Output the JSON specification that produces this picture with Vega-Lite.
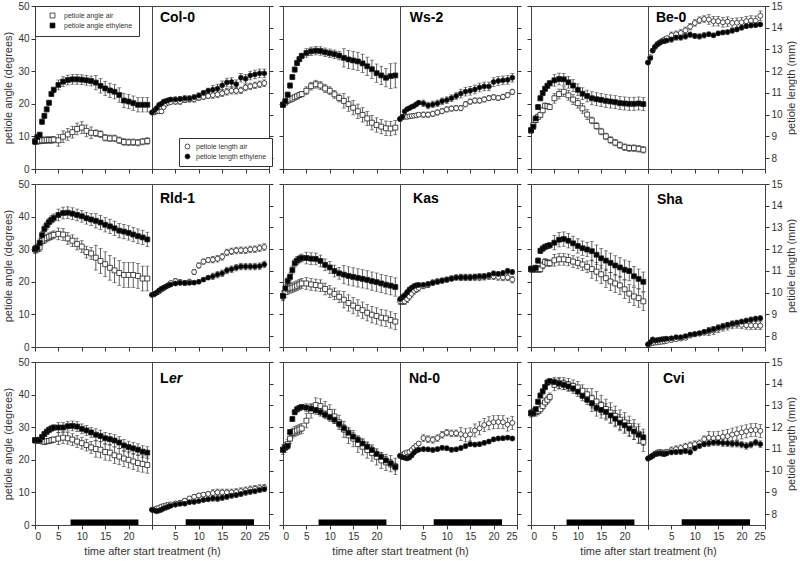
{
"$schema":"https://vega.github.io/schema/vega-lite/v6.json",
"padding":{"left":2,"top":0,"right":0,"bottom":2},
"config":{"font":"Liberation Sans","view":{"stroke":"#444","strokeWidth":1},
"axis":{"grid":false,"domain":false,"tickColor":"#333","tickSize":4,"labelFont":"Liberation Sans","labelFontSize":10,"labelColor":"#333","labelOverlap":false,"titleFont":"Liberation Sans","titleFontSize":11,"titleFontWeight":"normal","titleColor":"#333","labelPadding":2,"titlePadding":4}},
"datasets":{
"Col-0a":[{"s":"aa","t":0,"v":8.5,"e":1},{"s":"aa","t":0.5,"v":8.6,"e":1},{"s":"aa","t":1,"v":8.7,"e":1},{"s":"aa","t":1.5,"v":8.8,"e":1},{"s":"aa","t":2,"v":8.8,"e":1},{"s":"aa","t":2.5,"v":8.9,"e":1},{"s":"aa","t":3,"v":8.9,"e":1},{"s":"aa","t":3.5,"v":8.9,"e":1},{"s":"aa","t":4,"v":9,"e":1},{"s":"aa","t":5,"v":8.8,"e":1.8},{"s":"aa","t":6,"v":9.9,"e":1.8},{"s":"aa","t":7,"v":10.6,"e":1.8},{"s":"aa","t":8,"v":11.3,"e":1.8},{"s":"aa","t":9,"v":12.3,"e":1.8},{"s":"aa","t":10,"v":12.7,"e":1.8},{"s":"aa","t":11,"v":11.7,"e":1.8},{"s":"aa","t":12,"v":11.1,"e":1.8},{"s":"aa","t":13,"v":11,"e":1},{"s":"aa","t":14,"v":10.7,"e":1},{"s":"aa","t":15,"v":9.6,"e":1},{"s":"aa","t":16,"v":9.4,"e":1},{"s":"aa","t":17,"v":9.4,"e":1},{"s":"aa","t":18,"v":8.8,"e":1},{"s":"aa","t":19,"v":8.3,"e":1},{"s":"aa","t":20,"v":8.2,"e":1},{"s":"aa","t":21,"v":8.2,"e":1},{"s":"aa","t":22,"v":8.1,"e":1},{"s":"aa","t":23,"v":8.4,"e":1},{"s":"aa","t":24,"v":8.6,"e":1},
{"s":"ae","t":0,"v":8.4,"e":0.8},{"s":"ae","t":0.5,"v":9.8,"e":0.8},{"s":"ae","t":1,"v":10.5,"e":0.8},{"s":"ae","t":1.5,"v":14.5,"e":0.8},{"s":"ae","t":2,"v":16.3,"e":0.8},{"s":"ae","t":2.5,"v":18.3,"e":0.8},{"s":"ae","t":3,"v":20.3,"e":0.8},{"s":"ae","t":3.5,"v":23,"e":0.8},{"s":"ae","t":4,"v":24.3,"e":0.8},{"s":"ae","t":5,"v":25.8,"e":1.5},{"s":"ae","t":6,"v":26.8,"e":1.5},{"s":"ae","t":7,"v":27.3,"e":1.5},{"s":"ae","t":8,"v":27.5,"e":1.5},{"s":"ae","t":9,"v":27.5,"e":1.5},{"s":"ae","t":10,"v":27.4,"e":1.5},{"s":"ae","t":11,"v":27.2,"e":1.5},{"s":"ae","t":12,"v":27,"e":1.5},{"s":"ae","t":13,"v":26.5,"e":2.2},{"s":"ae","t":14,"v":25.5,"e":2.2},{"s":"ae","t":15,"v":24.7,"e":2.2},{"s":"ae","t":16,"v":24.1,"e":2.2},{"s":"ae","t":17,"v":23.7,"e":2.2},{"s":"ae","t":18,"v":22.7,"e":2.2},{"s":"ae","t":19,"v":21,"e":2.2},{"s":"ae","t":20,"v":20.7,"e":2.2},{"s":"ae","t":21,"v":20.2,"e":2.2},{"s":"ae","t":22,"v":19.7,"e":2.2},{"s":"ae","t":23,"v":19.7,"e":2.2},{"s":"ae","t":24,"v":19.7,"e":2.2}],
"Col-0l":[{"s":"la","t":0,"v":10.1,"e":0.08},{"s":"la","t":0.5,"v":10.1,"e":0.08},{"s":"la","t":1,"v":10.15,"e":0.08},{"s":"la","t":1.5,"v":10.15,"e":0.08},{"s":"la","t":2,"v":10.15,"e":0.08},{"s":"la","t":2.5,"v":10.35,"e":0.08},{"s":"la","t":3,"v":10.5,"e":0.08},{"s":"la","t":3.5,"v":10.55,"e":0.08},{"s":"la","t":4,"v":10.58,"e":0.08},{"s":"la","t":5,"v":10.6,"e":0.12},{"s":"la","t":6,"v":10.6,"e":0.12},{"s":"la","t":7,"v":10.68,"e":0.12},{"s":"la","t":8,"v":10.7,"e":0.12},{"s":"la","t":9,"v":10.7,"e":0.12},{"s":"la","t":10,"v":10.78,"e":0.12},{"s":"la","t":11,"v":10.82,"e":0.12},{"s":"la","t":12,"v":10.86,"e":0.12},{"s":"la","t":13,"v":10.9,"e":0.15},{"s":"la","t":14,"v":10.93,"e":0.15},{"s":"la","t":15,"v":10.98,"e":0.15},{"s":"la","t":16,"v":11.05,"e":0.15},{"s":"la","t":17,"v":11.1,"e":0.15},{"s":"la","t":18,"v":11.1,"e":0.15},{"s":"la","t":19,"v":11.12,"e":0.15},{"s":"la","t":20,"v":11.25,"e":0.15},{"s":"la","t":21,"v":11.3,"e":0.15},{"s":"la","t":22,"v":11.35,"e":0.15},{"s":"la","t":23,"v":11.4,"e":0.15},{"s":"la","t":24,"v":11.45,"e":0.15},
{"s":"le","t":0,"v":10.1,"e":0.08},{"s":"le","t":0.5,"v":10.2,"e":0.08},{"s":"le","t":1,"v":10.3,"e":0.08},{"s":"le","t":1.5,"v":10.45,"e":0.08},{"s":"le","t":2,"v":10.5,"e":0.08},{"s":"le","t":2.5,"v":10.6,"e":0.08},{"s":"le","t":3,"v":10.63,"e":0.08},{"s":"le","t":3.5,"v":10.67,"e":0.08},{"s":"le","t":4,"v":10.7,"e":0.08},{"s":"le","t":5,"v":10.7,"e":0.12},{"s":"le","t":6,"v":10.72,"e":0.12},{"s":"le","t":7,"v":10.75,"e":0.12},{"s":"le","t":8,"v":10.75,"e":0.12},{"s":"le","t":9,"v":10.8,"e":0.12},{"s":"le","t":10,"v":10.88,"e":0.12},{"s":"le","t":11,"v":11,"e":0.12},{"s":"le","t":12,"v":11.1,"e":0.12},{"s":"le","t":13,"v":11.15,"e":0.2},{"s":"le","t":14,"v":11.2,"e":0.2},{"s":"le","t":15,"v":11.35,"e":0.2},{"s":"le","t":16,"v":11.48,"e":0.2},{"s":"le","t":17,"v":11.5,"e":0.2},{"s":"le","t":18,"v":11.4,"e":0.2},{"s":"le","t":19,"v":11.7,"e":0.2},{"s":"le","t":20,"v":11.65,"e":0.2},{"s":"le","t":21,"v":11.8,"e":0.2},{"s":"le","t":22,"v":11.85,"e":0.2},{"s":"le","t":23,"v":11.9,"e":0.2},{"s":"le","t":24,"v":11.9,"e":0.2}],
"Ws-2a":[{"s":"aa","t":0,"v":19.7,"e":0.8},{"s":"aa","t":0.5,"v":20.4,"e":0.8},{"s":"aa","t":1,"v":21,"e":0.8},{"s":"aa","t":1.5,"v":21.3,"e":0.8},{"s":"aa","t":2,"v":21.6,"e":0.8},{"s":"aa","t":2.5,"v":22,"e":0.8},{"s":"aa","t":3,"v":22.3,"e":0.8},{"s":"aa","t":3.5,"v":22.7,"e":0.8},{"s":"aa","t":4,"v":23,"e":0.8},{"s":"aa","t":5,"v":24,"e":1.2},{"s":"aa","t":6,"v":25.4,"e":1.2},{"s":"aa","t":7,"v":26,"e":1.2},{"s":"aa","t":8,"v":25.6,"e":1.2},{"s":"aa","t":9,"v":24.7,"e":1.2},{"s":"aa","t":10,"v":24,"e":1.2},{"s":"aa","t":11,"v":22.9,"e":1.2},{"s":"aa","t":12,"v":21.8,"e":1.2},{"s":"aa","t":13,"v":20.9,"e":2.2},{"s":"aa","t":14,"v":19.9,"e":2.2},{"s":"aa","t":15,"v":18.8,"e":2.2},{"s":"aa","t":16,"v":17.7,"e":2.2},{"s":"aa","t":17,"v":16.6,"e":2.2},{"s":"aa","t":18,"v":15.5,"e":2.2},{"s":"aa","t":19,"v":14.2,"e":2.2},{"s":"aa","t":20,"v":13.5,"e":2.2},{"s":"aa","t":21,"v":13,"e":2.2},{"s":"aa","t":22,"v":12.5,"e":2.2},{"s":"aa","t":23,"v":12.4,"e":2.2},{"s":"aa","t":24,"v":12.7,"e":2.2},
{"s":"ae","t":0,"v":19.7,"e":0.8},{"s":"ae","t":0.5,"v":20.8,"e":0.8},{"s":"ae","t":1,"v":22.8,"e":0.8},{"s":"ae","t":1.5,"v":25.6,"e":0.8},{"s":"ae","t":2,"v":28.2,"e":0.8},{"s":"ae","t":2.5,"v":30.5,"e":0.8},{"s":"ae","t":3,"v":32.5,"e":0.8},{"s":"ae","t":3.5,"v":33.7,"e":0.8},{"s":"ae","t":4,"v":34.7,"e":0.8},{"s":"ae","t":5,"v":35.6,"e":1.3},{"s":"ae","t":6,"v":36.1,"e":1.3},{"s":"ae","t":7,"v":36.3,"e":1.3},{"s":"ae","t":8,"v":36.2,"e":1.3},{"s":"ae","t":9,"v":35.8,"e":1.3},{"s":"ae","t":10,"v":35.5,"e":1.3},{"s":"ae","t":11,"v":35.2,"e":1.3},{"s":"ae","t":12,"v":34.8,"e":1.3},{"s":"ae","t":13,"v":34.1,"e":2.8},{"s":"ae","t":14,"v":33.6,"e":2.8},{"s":"ae","t":15,"v":33.3,"e":2.8},{"s":"ae","t":16,"v":33,"e":2.8},{"s":"ae","t":17,"v":32.4,"e":2.8},{"s":"ae","t":18,"v":31.5,"e":2.8},{"s":"ae","t":19,"v":30.6,"e":2.8},{"s":"ae","t":20,"v":29.4,"e":2.8},{"s":"ae","t":21,"v":28.7,"e":2.8},{"s":"ae","t":22,"v":28,"e":2.8},{"s":"ae","t":23,"v":28.5,"e":3.8},{"s":"ae","t":24,"v":28.7,"e":3.8}],
"Ws-2l":[{"s":"la","t":0,"v":9.8,"e":0.08},{"s":"la","t":0.5,"v":9.88,"e":0.08},{"s":"la","t":1,"v":9.9,"e":0.08},{"s":"la","t":1.5,"v":9.9,"e":0.08},{"s":"la","t":2,"v":9.92,"e":0.08},{"s":"la","t":2.5,"v":9.94,"e":0.08},{"s":"la","t":3,"v":9.95,"e":0.08},{"s":"la","t":3.5,"v":9.97,"e":0.08},{"s":"la","t":4,"v":10,"e":0.08},{"s":"la","t":5,"v":10,"e":0.12},{"s":"la","t":6,"v":10,"e":0.12},{"s":"la","t":7,"v":10.04,"e":0.12},{"s":"la","t":8,"v":10.1,"e":0.12},{"s":"la","t":9,"v":10.16,"e":0.12},{"s":"la","t":10,"v":10.24,"e":0.12},{"s":"la","t":11,"v":10.28,"e":0.12},{"s":"la","t":12,"v":10.3,"e":0.12},{"s":"la","t":13,"v":10.3,"e":0.12},{"s":"la","t":14,"v":10.48,"e":0.12},{"s":"la","t":15,"v":10.6,"e":0.12},{"s":"la","t":16,"v":10.65,"e":0.12},{"s":"la","t":17,"v":10.65,"e":0.12},{"s":"la","t":18,"v":10.7,"e":0.12},{"s":"la","t":19,"v":10.76,"e":0.12},{"s":"la","t":20,"v":10.8,"e":0.12},{"s":"la","t":21,"v":10.77,"e":0.12},{"s":"la","t":22,"v":10.82,"e":0.12},{"s":"la","t":23,"v":10.9,"e":0.12},{"s":"la","t":24,"v":11.05,"e":0.12},
{"s":"le","t":0,"v":9.8,"e":0.08},{"s":"le","t":0.5,"v":9.9,"e":0.08},{"s":"le","t":1,"v":10.15,"e":0.08},{"s":"le","t":1.5,"v":10.25,"e":0.08},{"s":"le","t":2,"v":10.3,"e":0.08},{"s":"le","t":2.5,"v":10.36,"e":0.08},{"s":"le","t":3,"v":10.4,"e":0.08},{"s":"le","t":3.5,"v":10.48,"e":0.08},{"s":"le","t":4,"v":10.55,"e":0.08},{"s":"le","t":5,"v":10.52,"e":0.15},{"s":"le","t":6,"v":10.42,"e":0.15},{"s":"le","t":7,"v":10.47,"e":0.15},{"s":"le","t":8,"v":10.52,"e":0.15},{"s":"le","t":9,"v":10.62,"e":0.15},{"s":"le","t":10,"v":10.67,"e":0.15},{"s":"le","t":11,"v":10.76,"e":0.15},{"s":"le","t":12,"v":10.86,"e":0.15},{"s":"le","t":13,"v":10.97,"e":0.2},{"s":"le","t":14,"v":11.06,"e":0.2},{"s":"le","t":15,"v":11.1,"e":0.2},{"s":"le","t":16,"v":11.16,"e":0.2},{"s":"le","t":17,"v":11.25,"e":0.2},{"s":"le","t":18,"v":11.3,"e":0.2},{"s":"le","t":19,"v":11.3,"e":0.2},{"s":"le","t":20,"v":11.5,"e":0.2},{"s":"le","t":21,"v":11.55,"e":0.2},{"s":"le","t":22,"v":11.58,"e":0.2},{"s":"le","t":23,"v":11.6,"e":0.2},{"s":"le","t":24,"v":11.7,"e":0.2}],
"Be-0a":[{"s":"aa","t":0,"v":11.8,"e":0.8},{"s":"aa","t":0.5,"v":13.5,"e":0.8},{"s":"aa","t":1,"v":15,"e":0.8},{"s":"aa","t":1.5,"v":16,"e":0.8},{"s":"aa","t":2,"v":16.6,"e":0.8},{"s":"aa","t":2.5,"v":18,"e":0.8},{"s":"aa","t":3,"v":19.4,"e":0.8},{"s":"aa","t":3.5,"v":19.3,"e":0.8},{"s":"aa","t":4,"v":19,"e":0.8},{"s":"aa","t":5,"v":21.7,"e":1.5},{"s":"aa","t":6,"v":23,"e":1.5},{"s":"aa","t":7,"v":23.7,"e":1.5},{"s":"aa","t":8,"v":22.6,"e":1.5},{"s":"aa","t":9,"v":21.3,"e":1.5},{"s":"aa","t":10,"v":20.2,"e":1.5},{"s":"aa","t":11,"v":18.6,"e":1.5},{"s":"aa","t":12,"v":16.7,"e":1.5},{"s":"aa","t":13,"v":14.9,"e":1},{"s":"aa","t":14,"v":13.2,"e":1},{"s":"aa","t":15,"v":11.5,"e":1},{"s":"aa","t":16,"v":10,"e":1},{"s":"aa","t":17,"v":8.9,"e":1},{"s":"aa","t":18,"v":8.1,"e":1},{"s":"aa","t":19,"v":7.3,"e":1},{"s":"aa","t":20,"v":6.7,"e":1},{"s":"aa","t":21,"v":6.4,"e":1},{"s":"aa","t":22,"v":6.4,"e":1},{"s":"aa","t":23,"v":6.2,"e":1},{"s":"aa","t":24,"v":5.9,"e":1},
{"s":"ae","t":0,"v":11.9,"e":0.8},{"s":"ae","t":0.5,"v":13,"e":0.8},{"s":"ae","t":1,"v":15.5,"e":0.8},{"s":"ae","t":1.5,"v":19,"e":0.8},{"s":"ae","t":2,"v":21.7,"e":0.8},{"s":"ae","t":2.5,"v":23.3,"e":0.8},{"s":"ae","t":3,"v":24.6,"e":0.8},{"s":"ae","t":3.5,"v":25.5,"e":0.8},{"s":"ae","t":4,"v":26.3,"e":0.8},{"s":"ae","t":5,"v":27.2,"e":1.8},{"s":"ae","t":6,"v":27.6,"e":1.8},{"s":"ae","t":7,"v":27.5,"e":1.8},{"s":"ae","t":8,"v":26.6,"e":1.8},{"s":"ae","t":9,"v":25.6,"e":1.8},{"s":"ae","t":10,"v":24.3,"e":1.8},{"s":"ae","t":11,"v":23.1,"e":1.8},{"s":"ae","t":12,"v":22.4,"e":1.8},{"s":"ae","t":13,"v":21.7,"e":2},{"s":"ae","t":14,"v":21.4,"e":2},{"s":"ae","t":15,"v":21.2,"e":2},{"s":"ae","t":16,"v":20.9,"e":2},{"s":"ae","t":17,"v":20.7,"e":2},{"s":"ae","t":18,"v":20.5,"e":2},{"s":"ae","t":19,"v":20.2,"e":2},{"s":"ae","t":20,"v":20.1,"e":2},{"s":"ae","t":21,"v":20,"e":2},{"s":"ae","t":22,"v":20,"e":2},{"s":"ae","t":23,"v":20.1,"e":2},{"s":"ae","t":24,"v":19.9,"e":2}],
"Be-0l":[{"s":"la","t":0,"v":12.4,"e":0.08},{"s":"la","t":0.5,"v":12.65,"e":0.08},{"s":"la","t":1,"v":12.95,"e":0.08},{"s":"la","t":1.5,"v":13.12,"e":0.08},{"s":"la","t":2,"v":13.25,"e":0.08},{"s":"la","t":2.5,"v":13.33,"e":0.08},{"s":"la","t":3,"v":13.4,"e":0.08},{"s":"la","t":3.5,"v":13.46,"e":0.08},{"s":"la","t":4,"v":13.52,"e":0.08},{"s":"la","t":5,"v":13.65,"e":0.15},{"s":"la","t":6,"v":13.7,"e":0.15},{"s":"la","t":7,"v":13.76,"e":0.15},{"s":"la","t":8,"v":13.88,"e":0.15},{"s":"la","t":9,"v":14.05,"e":0.15},{"s":"la","t":10,"v":14.22,"e":0.15},{"s":"la","t":11,"v":14.35,"e":0.15},{"s":"la","t":12,"v":14.4,"e":0.15},{"s":"la","t":13,"v":14.38,"e":0.22},{"s":"la","t":14,"v":14.3,"e":0.22},{"s":"la","t":15,"v":14.3,"e":0.22},{"s":"la","t":16,"v":14.25,"e":0.22},{"s":"la","t":17,"v":14.28,"e":0.22},{"s":"la","t":18,"v":14.22,"e":0.22},{"s":"la","t":19,"v":14.23,"e":0.22},{"s":"la","t":20,"v":14.25,"e":0.22},{"s":"la","t":21,"v":14.3,"e":0.22},{"s":"la","t":22,"v":14.33,"e":0.22},{"s":"la","t":23,"v":14.32,"e":0.22},{"s":"la","t":24,"v":14.55,"e":0.22},
{"s":"le","t":0,"v":12.4,"e":0.08},{"s":"le","t":0.5,"v":12.6,"e":0.08},{"s":"le","t":1,"v":12.95,"e":0.08},{"s":"le","t":1.5,"v":13.12,"e":0.08},{"s":"le","t":2,"v":13.23,"e":0.08},{"s":"le","t":2.5,"v":13.3,"e":0.08},{"s":"le","t":3,"v":13.36,"e":0.08},{"s":"le","t":3.5,"v":13.38,"e":0.08},{"s":"le","t":4,"v":13.41,"e":0.08},{"s":"le","t":5,"v":13.46,"e":0.12},{"s":"le","t":6,"v":13.55,"e":0.12},{"s":"le","t":7,"v":13.55,"e":0.12},{"s":"le","t":8,"v":13.6,"e":0.12},{"s":"le","t":9,"v":13.68,"e":0.12},{"s":"le","t":10,"v":13.62,"e":0.12},{"s":"le","t":11,"v":13.6,"e":0.12},{"s":"le","t":12,"v":13.65,"e":0.12},{"s":"le","t":13,"v":13.7,"e":0.1},{"s":"le","t":14,"v":13.65,"e":0.1},{"s":"le","t":15,"v":13.74,"e":0.1},{"s":"le","t":16,"v":13.78,"e":0.1},{"s":"le","t":17,"v":13.8,"e":0.1},{"s":"le","t":18,"v":13.86,"e":0.1},{"s":"le","t":19,"v":13.92,"e":0.1},{"s":"le","t":20,"v":14,"e":0.1},{"s":"le","t":21,"v":14.07,"e":0.1},{"s":"le","t":22,"v":14.1,"e":0.1},{"s":"le","t":23,"v":14.12,"e":0.1},{"s":"le","t":24,"v":14.15,"e":0.1}],
"Rld-1a":[{"s":"aa","t":0,"v":30,"e":1.2},{"s":"aa","t":0.5,"v":30.1,"e":1.2},{"s":"aa","t":1,"v":30.5,"e":1.2},{"s":"aa","t":1.5,"v":32.5,"e":1.2},{"s":"aa","t":2,"v":33,"e":1.2},{"s":"aa","t":2.5,"v":33.4,"e":1.2},{"s":"aa","t":3,"v":33.8,"e":1.2},{"s":"aa","t":3.5,"v":34.1,"e":1.2},{"s":"aa","t":4,"v":34.4,"e":1.2},{"s":"aa","t":5,"v":34.7,"e":1.8},{"s":"aa","t":6,"v":34.5,"e":1.8},{"s":"aa","t":7,"v":33.3,"e":1.8},{"s":"aa","t":8,"v":32.6,"e":1.8},{"s":"aa","t":9,"v":31.6,"e":1.8},{"s":"aa","t":10,"v":30.8,"e":1.8},{"s":"aa","t":11,"v":29.1,"e":1.8},{"s":"aa","t":12,"v":28.7,"e":1.8},{"s":"aa","t":13,"v":27.4,"e":3.8},{"s":"aa","t":14,"v":26.4,"e":3.8},{"s":"aa","t":15,"v":25.4,"e":3.8},{"s":"aa","t":16,"v":24.3,"e":3.8},{"s":"aa","t":17,"v":23.5,"e":3.8},{"s":"aa","t":18,"v":22.7,"e":3.8},{"s":"aa","t":19,"v":22.1,"e":3.8},{"s":"aa","t":20,"v":22.1,"e":3.8},{"s":"aa","t":21,"v":22.1,"e":3.8},{"s":"aa","t":22,"v":21.8,"e":3.8},{"s":"aa","t":23,"v":21,"e":3.8},{"s":"aa","t":24,"v":21,"e":3.8},
{"s":"ae","t":0,"v":30,"e":1.2},{"s":"ae","t":0.5,"v":30.5,"e":1.2},{"s":"ae","t":1,"v":32,"e":1.2},{"s":"ae","t":1.5,"v":34.3,"e":1.2},{"s":"ae","t":2,"v":36.2,"e":1.2},{"s":"ae","t":2.5,"v":37.3,"e":1.2},{"s":"ae","t":3,"v":38.3,"e":1.2},{"s":"ae","t":3.5,"v":39,"e":1.2},{"s":"ae","t":4,"v":39.6,"e":1.2},{"s":"ae","t":5,"v":40.5,"e":1.8},{"s":"ae","t":6,"v":41.1,"e":1.8},{"s":"ae","t":7,"v":41.2,"e":1.8},{"s":"ae","t":8,"v":40.9,"e":1.8},{"s":"ae","t":9,"v":40.5,"e":1.8},{"s":"ae","t":10,"v":40.1,"e":1.8},{"s":"ae","t":11,"v":39.5,"e":1.8},{"s":"ae","t":12,"v":39.1,"e":1.8},{"s":"ae","t":13,"v":38.7,"e":2.2},{"s":"ae","t":14,"v":38.2,"e":2.2},{"s":"ae","t":15,"v":37.5,"e":2.2},{"s":"ae","t":16,"v":37,"e":2.2},{"s":"ae","t":17,"v":36.4,"e":2.2},{"s":"ae","t":18,"v":35.7,"e":2.2},{"s":"ae","t":19,"v":35.4,"e":2.2},{"s":"ae","t":20,"v":35,"e":2.2},{"s":"ae","t":21,"v":34.5,"e":2.2},{"s":"ae","t":22,"v":34,"e":2.2},{"s":"ae","t":23,"v":33.6,"e":2.2},{"s":"ae","t":24,"v":33,"e":2.2}],
"Rld-1l":[{"s":"la","t":0,"v":9.9,"e":0.05},{"s":"la","t":0.5,"v":9.95,"e":0.05},{"s":"la","t":1,"v":10,"e":0.05},{"s":"la","t":1.5,"v":10.05,"e":0.05},{"s":"la","t":2,"v":10.13,"e":0.05},{"s":"la","t":2.5,"v":10.2,"e":0.05},{"s":"la","t":3,"v":10.28,"e":0.05},{"s":"la","t":3.5,"v":10.35,"e":0.05},{"s":"la","t":4,"v":10.45,"e":0.05},{"s":"la","t":5,"v":10.53,"e":0.12},{"s":"la","t":6,"v":10.48,"e":0.12},{"s":"la","t":7,"v":10.45,"e":0.12},{"s":"la","t":8,"v":10.5,"e":0.12},{"s":"la","t":9,"v":10.95,"e":0.12},{"s":"la","t":10,"v":11.25,"e":0.12},{"s":"la","t":11,"v":11.43,"e":0.12},{"s":"la","t":12,"v":11.5,"e":0.12},{"s":"la","t":13,"v":11.52,"e":0.15},{"s":"la","t":14,"v":11.56,"e":0.15},{"s":"la","t":15,"v":11.65,"e":0.15},{"s":"la","t":16,"v":11.85,"e":0.15},{"s":"la","t":17,"v":11.9,"e":0.15},{"s":"la","t":18,"v":11.94,"e":0.15},{"s":"la","t":19,"v":11.95,"e":0.15},{"s":"la","t":20,"v":11.95,"e":0.15},{"s":"la","t":21,"v":11.99,"e":0.15},{"s":"la","t":22,"v":12,"e":0.15},{"s":"la","t":23,"v":12.05,"e":0.15},{"s":"la","t":24,"v":12.1,"e":0.15},
{"s":"le","t":0,"v":9.9,"e":0.05},{"s":"le","t":0.5,"v":9.93,"e":0.05},{"s":"le","t":1,"v":10,"e":0.05},{"s":"le","t":1.5,"v":10.1,"e":0.05},{"s":"le","t":2,"v":10.18,"e":0.05},{"s":"le","t":2.5,"v":10.23,"e":0.05},{"s":"le","t":3,"v":10.28,"e":0.05},{"s":"le","t":3.5,"v":10.33,"e":0.05},{"s":"le","t":4,"v":10.37,"e":0.05},{"s":"le","t":5,"v":10.42,"e":0.08},{"s":"le","t":6,"v":10.45,"e":0.08},{"s":"le","t":7,"v":10.45,"e":0.08},{"s":"le","t":8,"v":10.45,"e":0.08},{"s":"le","t":9,"v":10.46,"e":0.08},{"s":"le","t":10,"v":10.5,"e":0.08},{"s":"le","t":11,"v":10.6,"e":0.08},{"s":"le","t":12,"v":10.69,"e":0.08},{"s":"le","t":13,"v":10.75,"e":0.15},{"s":"le","t":14,"v":10.83,"e":0.15},{"s":"le","t":15,"v":10.89,"e":0.15},{"s":"le","t":16,"v":11.02,"e":0.15},{"s":"le","t":17,"v":11.08,"e":0.15},{"s":"le","t":18,"v":11.15,"e":0.15},{"s":"le","t":19,"v":11.2,"e":0.15},{"s":"le","t":20,"v":11.2,"e":0.15},{"s":"le","t":21,"v":11.2,"e":0.15},{"s":"le","t":22,"v":11.2,"e":0.15},{"s":"le","t":23,"v":11.22,"e":0.15},{"s":"le","t":24,"v":11.3,"e":0.15}],
"Kasa":[{"s":"aa","t":0,"v":15.7,"e":1.5},{"s":"aa","t":0.5,"v":16.8,"e":1.5},{"s":"aa","t":1,"v":17.7,"e":1.5},{"s":"aa","t":1.5,"v":18,"e":1.5},{"s":"aa","t":2,"v":18.2,"e":1.5},{"s":"aa","t":2.5,"v":18.5,"e":1.5},{"s":"aa","t":3,"v":18.8,"e":1.5},{"s":"aa","t":3.5,"v":19.2,"e":1.5},{"s":"aa","t":4,"v":19.5,"e":1.5},{"s":"aa","t":5,"v":19.5,"e":1.8},{"s":"aa","t":6,"v":19.2,"e":1.8},{"s":"aa","t":7,"v":19,"e":1.8},{"s":"aa","t":8,"v":18.8,"e":1.8},{"s":"aa","t":9,"v":17.8,"e":1.8},{"s":"aa","t":10,"v":17,"e":1.8},{"s":"aa","t":11,"v":16.3,"e":1.8},{"s":"aa","t":12,"v":15.4,"e":1.8},{"s":"aa","t":13,"v":14.5,"e":2.5},{"s":"aa","t":14,"v":13.5,"e":2.5},{"s":"aa","t":15,"v":12.7,"e":2.5},{"s":"aa","t":16,"v":12,"e":2.5},{"s":"aa","t":17,"v":11.3,"e":2.5},{"s":"aa","t":18,"v":10.5,"e":2.5},{"s":"aa","t":19,"v":9.9,"e":2.5},{"s":"aa","t":20,"v":9.5,"e":2.5},{"s":"aa","t":21,"v":9,"e":2.5},{"s":"aa","t":22,"v":8.8,"e":2.5},{"s":"aa","t":23,"v":8.3,"e":2.5},{"s":"aa","t":24,"v":7.8,"e":2.5},
{"s":"ae","t":0,"v":15.7,"e":1.2},{"s":"ae","t":0.5,"v":18,"e":1.2},{"s":"ae","t":1,"v":20.2,"e":1.2},{"s":"ae","t":1.5,"v":21.5,"e":1.2},{"s":"ae","t":2,"v":23.6,"e":1.2},{"s":"ae","t":2.5,"v":25.7,"e":1.2},{"s":"ae","t":3,"v":26.5,"e":1.2},{"s":"ae","t":3.5,"v":27,"e":1.2},{"s":"ae","t":4,"v":27.3,"e":1.2},{"s":"ae","t":5,"v":27.3,"e":1.8},{"s":"ae","t":6,"v":27.1,"e":1.8},{"s":"ae","t":7,"v":27,"e":1.8},{"s":"ae","t":8,"v":26.4,"e":1.8},{"s":"ae","t":9,"v":25.2,"e":1.8},{"s":"ae","t":10,"v":24.4,"e":1.8},{"s":"ae","t":11,"v":23.3,"e":1.8},{"s":"ae","t":12,"v":22.6,"e":1.8},{"s":"ae","t":13,"v":22.2,"e":2.8},{"s":"ae","t":14,"v":21.8,"e":2.8},{"s":"ae","t":15,"v":21.5,"e":2.8},{"s":"ae","t":16,"v":21.2,"e":2.8},{"s":"ae","t":17,"v":20.9,"e":2.8},{"s":"ae","t":18,"v":20.6,"e":2.8},{"s":"ae","t":19,"v":20.2,"e":2.8},{"s":"ae","t":20,"v":19.9,"e":2.8},{"s":"ae","t":21,"v":19.5,"e":2.8},{"s":"ae","t":22,"v":19.1,"e":2.8},{"s":"ae","t":23,"v":18.8,"e":2.8},{"s":"ae","t":24,"v":18.4,"e":2.8}],
"Kasl":[{"s":"la","t":0,"v":9.6,"e":0.15},{"s":"la","t":0.5,"v":9.6,"e":0.15},{"s":"la","t":1,"v":9.6,"e":0.15},{"s":"la","t":1.5,"v":9.7,"e":0.15},{"s":"la","t":2,"v":9.82,"e":0.15},{"s":"la","t":2.5,"v":9.95,"e":0.15},{"s":"la","t":3,"v":10.08,"e":0.15},{"s":"la","t":3.5,"v":10.15,"e":0.15},{"s":"la","t":4,"v":10.22,"e":0.15},{"s":"la","t":5,"v":10.3,"e":0.12},{"s":"la","t":6,"v":10.35,"e":0.12},{"s":"la","t":7,"v":10.47,"e":0.12},{"s":"la","t":8,"v":10.52,"e":0.12},{"s":"la","t":9,"v":10.56,"e":0.12},{"s":"la","t":10,"v":10.6,"e":0.12},{"s":"la","t":11,"v":10.66,"e":0.12},{"s":"la","t":12,"v":10.7,"e":0.12},{"s":"la","t":13,"v":10.7,"e":0.15},{"s":"la","t":14,"v":10.7,"e":0.15},{"s":"la","t":15,"v":10.7,"e":0.15},{"s":"la","t":16,"v":10.7,"e":0.15},{"s":"la","t":17,"v":10.7,"e":0.15},{"s":"la","t":18,"v":10.73,"e":0.15},{"s":"la","t":19,"v":10.75,"e":0.15},{"s":"la","t":20,"v":10.75,"e":0.15},{"s":"la","t":21,"v":10.72,"e":0.15},{"s":"la","t":22,"v":10.7,"e":0.15},{"s":"la","t":23,"v":10.7,"e":0.15},{"s":"la","t":24,"v":10.6,"e":0.15},
{"s":"le","t":0,"v":9.7,"e":0.1},{"s":"le","t":0.5,"v":9.8,"e":0.1},{"s":"le","t":1,"v":9.88,"e":0.1},{"s":"le","t":1.5,"v":10.02,"e":0.1},{"s":"le","t":2,"v":10.15,"e":0.1},{"s":"le","t":2.5,"v":10.23,"e":0.1},{"s":"le","t":3,"v":10.3,"e":0.1},{"s":"le","t":3.5,"v":10.34,"e":0.1},{"s":"le","t":4,"v":10.35,"e":0.1},{"s":"le","t":5,"v":10.36,"e":0.1},{"s":"le","t":6,"v":10.4,"e":0.1},{"s":"le","t":7,"v":10.45,"e":0.1},{"s":"le","t":8,"v":10.5,"e":0.1},{"s":"le","t":9,"v":10.55,"e":0.1},{"s":"le","t":10,"v":10.6,"e":0.1},{"s":"le","t":11,"v":10.64,"e":0.1},{"s":"le","t":12,"v":10.69,"e":0.1},{"s":"le","t":13,"v":10.7,"e":0.12},{"s":"le","t":14,"v":10.7,"e":0.12},{"s":"le","t":15,"v":10.7,"e":0.12},{"s":"le","t":16,"v":10.73,"e":0.12},{"s":"le","t":17,"v":10.75,"e":0.12},{"s":"le","t":18,"v":10.75,"e":0.12},{"s":"le","t":19,"v":10.8,"e":0.12},{"s":"le","t":20,"v":10.88,"e":0.12},{"s":"le","t":21,"v":10.86,"e":0.12},{"s":"le","t":22,"v":10.9,"e":0.12},{"s":"le","t":23,"v":11,"e":0.12},{"s":"le","t":24,"v":10.95,"e":0.12}],
"Shaa":[{"s":"aa","t":0,"v":23.9,"e":1},{"s":"aa","t":0.5,"v":23.9,"e":1},{"s":"aa","t":1,"v":23.9,"e":1},{"s":"aa","t":1.5,"v":23.9,"e":1},{"s":"aa","t":2,"v":23.9,"e":1},{"s":"aa","t":2.5,"v":25,"e":1},{"s":"aa","t":3,"v":26.1,"e":1},{"s":"aa","t":3.5,"v":25.8,"e":1},{"s":"aa","t":4,"v":25.7,"e":1},{"s":"aa","t":5,"v":26.6,"e":1.8},{"s":"aa","t":6,"v":26.9,"e":1.8},{"s":"aa","t":7,"v":26.9,"e":1.8},{"s":"aa","t":8,"v":26.7,"e":1.8},{"s":"aa","t":9,"v":26.2,"e":1.8},{"s":"aa","t":10,"v":25.8,"e":1.8},{"s":"aa","t":11,"v":25.3,"e":1.8},{"s":"aa","t":12,"v":24.6,"e":1.8},{"s":"aa","t":13,"v":23.9,"e":2.8},{"s":"aa","t":14,"v":23.1,"e":2.8},{"s":"aa","t":15,"v":22.3,"e":2.8},{"s":"aa","t":16,"v":21.1,"e":2.8},{"s":"aa","t":17,"v":20.1,"e":2.8},{"s":"aa","t":18,"v":19.5,"e":2.8},{"s":"aa","t":19,"v":18.9,"e":2.8},{"s":"aa","t":20,"v":17.7,"e":2.8},{"s":"aa","t":21,"v":16.4,"e":2.8},{"s":"aa","t":22,"v":15.5,"e":2.8},{"s":"aa","t":23,"v":15,"e":2.8},{"s":"aa","t":24,"v":14,"e":2.8},
{"s":"ae","t":0,"v":23.9,"e":0.8},{"s":"ae","t":0.5,"v":23.9,"e":0.8},{"s":"ae","t":1,"v":24.3,"e":0.8},{"s":"ae","t":1.5,"v":26.5,"e":0.8},{"s":"ae","t":2,"v":29.5,"e":0.8},{"s":"ae","t":2.5,"v":30.2,"e":0.8},{"s":"ae","t":3,"v":30.7,"e":0.8},{"s":"ae","t":3.5,"v":31,"e":0.8},{"s":"ae","t":4,"v":31.2,"e":0.8},{"s":"ae","t":5,"v":32,"e":2.2},{"s":"ae","t":6,"v":32.9,"e":2.2},{"s":"ae","t":7,"v":33.1,"e":2.2},{"s":"ae","t":8,"v":32.6,"e":2.2},{"s":"ae","t":9,"v":31.8,"e":2.2},{"s":"ae","t":10,"v":31,"e":2.2},{"s":"ae","t":11,"v":30.3,"e":2.2},{"s":"ae","t":12,"v":29.9,"e":2.2},{"s":"ae","t":13,"v":29.4,"e":3},{"s":"ae","t":14,"v":28.3,"e":3},{"s":"ae","t":15,"v":27.2,"e":3},{"s":"ae","t":16,"v":26.5,"e":3},{"s":"ae","t":17,"v":25.8,"e":3},{"s":"ae","t":18,"v":25,"e":3},{"s":"ae","t":19,"v":24.4,"e":3},{"s":"ae","t":20,"v":23.7,"e":3},{"s":"ae","t":21,"v":23.3,"e":3},{"s":"ae","t":22,"v":21.7,"e":3},{"s":"ae","t":23,"v":20.9,"e":3},{"s":"ae","t":24,"v":20,"e":3}],
"Shal":[{"s":"la","t":0,"v":7.62,"e":0.05},{"s":"la","t":0.5,"v":7.65,"e":0.05},{"s":"la","t":1,"v":7.68,"e":0.05},{"s":"la","t":1.5,"v":7.7,"e":0.05},{"s":"la","t":2,"v":7.71,"e":0.05},{"s":"la","t":2.5,"v":7.73,"e":0.05},{"s":"la","t":3,"v":7.74,"e":0.05},{"s":"la","t":3.5,"v":7.76,"e":0.05},{"s":"la","t":4,"v":7.78,"e":0.05},{"s":"la","t":5,"v":7.82,"e":0.08},{"s":"la","t":6,"v":7.86,"e":0.08},{"s":"la","t":7,"v":7.89,"e":0.08},{"s":"la","t":8,"v":7.92,"e":0.08},{"s":"la","t":9,"v":8.02,"e":0.08},{"s":"la","t":10,"v":8.08,"e":0.08},{"s":"la","t":11,"v":8.11,"e":0.08},{"s":"la","t":12,"v":8.15,"e":0.08},{"s":"la","t":13,"v":8.21,"e":0.18},{"s":"la","t":14,"v":8.26,"e":0.18},{"s":"la","t":15,"v":8.34,"e":0.18},{"s":"la","t":16,"v":8.41,"e":0.18},{"s":"la","t":17,"v":8.46,"e":0.18},{"s":"la","t":18,"v":8.52,"e":0.18},{"s":"la","t":19,"v":8.55,"e":0.18},{"s":"la","t":20,"v":8.52,"e":0.18},{"s":"la","t":21,"v":8.5,"e":0.18},{"s":"la","t":22,"v":8.49,"e":0.18},{"s":"la","t":23,"v":8.48,"e":0.18},{"s":"la","t":24,"v":8.48,"e":0.18},
{"s":"le","t":0,"v":7.62,"e":0.05},{"s":"le","t":0.5,"v":7.72,"e":0.05},{"s":"le","t":1,"v":7.85,"e":0.05},{"s":"le","t":1.5,"v":7.8,"e":0.05},{"s":"le","t":2,"v":7.82,"e":0.05},{"s":"le","t":2.5,"v":7.84,"e":0.05},{"s":"le","t":3,"v":7.86,"e":0.05},{"s":"le","t":3.5,"v":7.87,"e":0.05},{"s":"le","t":4,"v":7.88,"e":0.05},{"s":"le","t":5,"v":7.9,"e":0.08},{"s":"le","t":6,"v":7.95,"e":0.08},{"s":"le","t":7,"v":7.95,"e":0.08},{"s":"le","t":8,"v":8,"e":0.08},{"s":"le","t":9,"v":8.07,"e":0.08},{"s":"le","t":10,"v":8.1,"e":0.08},{"s":"le","t":11,"v":8.14,"e":0.08},{"s":"le","t":12,"v":8.2,"e":0.08},{"s":"le","t":13,"v":8.26,"e":0.12},{"s":"le","t":14,"v":8.32,"e":0.12},{"s":"le","t":15,"v":8.39,"e":0.12},{"s":"le","t":16,"v":8.45,"e":0.12},{"s":"le","t":17,"v":8.51,"e":0.12},{"s":"le","t":18,"v":8.57,"e":0.12},{"s":"le","t":19,"v":8.61,"e":0.12},{"s":"le","t":20,"v":8.66,"e":0.12},{"s":"le","t":21,"v":8.71,"e":0.12},{"s":"le","t":22,"v":8.76,"e":0.12},{"s":"le","t":23,"v":8.8,"e":0.12},{"s":"le","t":24,"v":8.82,"e":0.12}],
"Lera":[{"s":"aa","t":0,"v":26,"e":0.8},{"s":"aa","t":0.5,"v":25.9,"e":0.8},{"s":"aa","t":1,"v":25.8,"e":0.8},{"s":"aa","t":1.5,"v":25.7,"e":0.8},{"s":"aa","t":2,"v":25.5,"e":0.8},{"s":"aa","t":2.5,"v":25.7,"e":0.8},{"s":"aa","t":3,"v":25.8,"e":0.8},{"s":"aa","t":3.5,"v":26,"e":0.8},{"s":"aa","t":4,"v":26.2,"e":0.8},{"s":"aa","t":5,"v":26.5,"e":1.8},{"s":"aa","t":6,"v":26.8,"e":1.8},{"s":"aa","t":7,"v":26.6,"e":1.8},{"s":"aa","t":8,"v":26.2,"e":1.8},{"s":"aa","t":9,"v":25.6,"e":1.8},{"s":"aa","t":10,"v":25.1,"e":1.8},{"s":"aa","t":11,"v":24.5,"e":1.8},{"s":"aa","t":12,"v":23.8,"e":1.8},{"s":"aa","t":13,"v":23.3,"e":2.5},{"s":"aa","t":14,"v":23.1,"e":2.5},{"s":"aa","t":15,"v":22.4,"e":2.5},{"s":"aa","t":16,"v":22.2,"e":2.5},{"s":"aa","t":17,"v":21.4,"e":2.5},{"s":"aa","t":18,"v":21,"e":2.5},{"s":"aa","t":19,"v":20.4,"e":2.5},{"s":"aa","t":20,"v":20,"e":2.5},{"s":"aa","t":21,"v":19.5,"e":2.5},{"s":"aa","t":22,"v":19,"e":2.5},{"s":"aa","t":23,"v":18.7,"e":2.5},{"s":"aa","t":24,"v":18.4,"e":2.5},
{"s":"ae","t":0,"v":26,"e":0.8},{"s":"ae","t":0.5,"v":26.1,"e":0.8},{"s":"ae","t":1,"v":26.1,"e":0.8},{"s":"ae","t":1.5,"v":27,"e":0.8},{"s":"ae","t":2,"v":27.9,"e":0.8},{"s":"ae","t":2.5,"v":28.6,"e":0.8},{"s":"ae","t":3,"v":29.2,"e":0.8},{"s":"ae","t":3.5,"v":29.6,"e":0.8},{"s":"ae","t":4,"v":29.9,"e":0.8},{"s":"ae","t":5,"v":29.9,"e":1.5},{"s":"ae","t":6,"v":29.9,"e":1.5},{"s":"ae","t":7,"v":30.3,"e":1.5},{"s":"ae","t":8,"v":30.4,"e":1.5},{"s":"ae","t":9,"v":30.2,"e":1.5},{"s":"ae","t":10,"v":29.5,"e":1.5},{"s":"ae","t":11,"v":29,"e":1.5},{"s":"ae","t":12,"v":28.4,"e":1.5},{"s":"ae","t":13,"v":27.7,"e":1.8},{"s":"ae","t":14,"v":27.3,"e":1.8},{"s":"ae","t":15,"v":26.6,"e":1.8},{"s":"ae","t":16,"v":26.3,"e":1.8},{"s":"ae","t":17,"v":25.9,"e":1.8},{"s":"ae","t":18,"v":25.3,"e":1.8},{"s":"ae","t":19,"v":24.4,"e":1.8},{"s":"ae","t":20,"v":23.9,"e":1.8},{"s":"ae","t":21,"v":23.5,"e":1.8},{"s":"ae","t":22,"v":23.1,"e":1.8},{"s":"ae","t":23,"v":22.5,"e":1.8},{"s":"ae","t":24,"v":22.2,"e":1.8}],
"Lerl":[{"s":"la","t":0,"v":8.2,"e":0.05},{"s":"la","t":0.5,"v":8.22,"e":0.05},{"s":"la","t":1,"v":8.26,"e":0.05},{"s":"la","t":1.5,"v":8.3,"e":0.05},{"s":"la","t":2,"v":8.35,"e":0.05},{"s":"la","t":2.5,"v":8.38,"e":0.05},{"s":"la","t":3,"v":8.41,"e":0.05},{"s":"la","t":3.5,"v":8.43,"e":0.05},{"s":"la","t":4,"v":8.45,"e":0.05},{"s":"la","t":5,"v":8.49,"e":0.1},{"s":"la","t":6,"v":8.53,"e":0.1},{"s":"la","t":7,"v":8.62,"e":0.1},{"s":"la","t":8,"v":8.72,"e":0.1},{"s":"la","t":9,"v":8.8,"e":0.1},{"s":"la","t":10,"v":8.86,"e":0.1},{"s":"la","t":11,"v":8.9,"e":0.1},{"s":"la","t":12,"v":8.93,"e":0.1},{"s":"la","t":13,"v":8.97,"e":0.15},{"s":"la","t":14,"v":9,"e":0.15},{"s":"la","t":15,"v":9,"e":0.15},{"s":"la","t":16,"v":9,"e":0.15},{"s":"la","t":17,"v":9,"e":0.15},{"s":"la","t":18,"v":9.02,"e":0.15},{"s":"la","t":19,"v":9.06,"e":0.15},{"s":"la","t":20,"v":9.1,"e":0.15},{"s":"la","t":21,"v":9.14,"e":0.15},{"s":"la","t":22,"v":9.17,"e":0.15},{"s":"la","t":23,"v":9.2,"e":0.15},{"s":"la","t":24,"v":9.22,"e":0.15},
{"s":"le","t":0,"v":8.2,"e":0.05},{"s":"le","t":0.5,"v":8.17,"e":0.05},{"s":"le","t":1,"v":8.13,"e":0.05},{"s":"le","t":1.5,"v":8.16,"e":0.05},{"s":"le","t":2,"v":8.2,"e":0.05},{"s":"le","t":2.5,"v":8.26,"e":0.05},{"s":"le","t":3,"v":8.3,"e":0.05},{"s":"le","t":3.5,"v":8.34,"e":0.05},{"s":"le","t":4,"v":8.38,"e":0.05},{"s":"le","t":5,"v":8.43,"e":0.08},{"s":"le","t":6,"v":8.47,"e":0.08},{"s":"le","t":7,"v":8.48,"e":0.08},{"s":"le","t":8,"v":8.55,"e":0.08},{"s":"le","t":9,"v":8.56,"e":0.08},{"s":"le","t":10,"v":8.6,"e":0.08},{"s":"le","t":11,"v":8.65,"e":0.08},{"s":"le","t":12,"v":8.68,"e":0.08},{"s":"le","t":13,"v":8.72,"e":0.12},{"s":"le","t":14,"v":8.71,"e":0.12},{"s":"le","t":15,"v":8.75,"e":0.12},{"s":"le","t":16,"v":8.8,"e":0.12},{"s":"le","t":17,"v":8.85,"e":0.12},{"s":"le","t":18,"v":8.88,"e":0.12},{"s":"le","t":19,"v":8.93,"e":0.12},{"s":"le","t":20,"v":8.99,"e":0.12},{"s":"le","t":21,"v":9.03,"e":0.12},{"s":"le","t":22,"v":9.06,"e":0.12},{"s":"le","t":23,"v":9.11,"e":0.12},{"s":"le","t":24,"v":9.15,"e":0.12}],
"Nd-0a":[{"s":"aa","t":0,"v":23.1,"e":1.5},{"s":"aa","t":0.5,"v":23.8,"e":1.5},{"s":"aa","t":1,"v":24.8,"e":1.5},{"s":"aa","t":1.5,"v":26.5,"e":1.5},{"s":"aa","t":2,"v":28.2,"e":1.5},{"s":"aa","t":2.5,"v":28.7,"e":1.5},{"s":"aa","t":3,"v":29,"e":1.5},{"s":"aa","t":3.5,"v":29.3,"e":1.5},{"s":"aa","t":4,"v":29.6,"e":1.5},{"s":"aa","t":5,"v":32,"e":2.2},{"s":"aa","t":6,"v":35,"e":2.2},{"s":"aa","t":7,"v":36.8,"e":2.2},{"s":"aa","t":8,"v":36.5,"e":2.2},{"s":"aa","t":9,"v":35.7,"e":2.2},{"s":"aa","t":10,"v":34.7,"e":2.2},{"s":"aa","t":11,"v":33.3,"e":2.2},{"s":"aa","t":12,"v":31.5,"e":2.2},{"s":"aa","t":13,"v":29.3,"e":2.5},{"s":"aa","t":14,"v":27.5,"e":2.5},{"s":"aa","t":15,"v":26.5,"e":2.5},{"s":"aa","t":16,"v":24.8,"e":2.5},{"s":"aa","t":17,"v":24,"e":2.5},{"s":"aa","t":18,"v":23,"e":2.5},{"s":"aa","t":19,"v":22.1,"e":2.5},{"s":"aa","t":20,"v":20.9,"e":2.5},{"s":"aa","t":21,"v":19.8,"e":2.5},{"s":"aa","t":22,"v":19.2,"e":2.5},{"s":"aa","t":23,"v":18.8,"e":2.5},{"s":"aa","t":24,"v":18,"e":2.5},
{"s":"ae","t":0,"v":23.1,"e":0.8},{"s":"ae","t":0.5,"v":23.8,"e":0.8},{"s":"ae","t":1,"v":24.3,"e":0.8},{"s":"ae","t":1.5,"v":28.5,"e":0.8},{"s":"ae","t":2,"v":32.5,"e":0.8},{"s":"ae","t":2.5,"v":34.6,"e":0.8},{"s":"ae","t":3,"v":35.5,"e":0.8},{"s":"ae","t":3.5,"v":35.9,"e":0.8},{"s":"ae","t":4,"v":36.2,"e":0.8},{"s":"ae","t":5,"v":36,"e":1.2},{"s":"ae","t":6,"v":35.7,"e":1.2},{"s":"ae","t":7,"v":35.2,"e":1.2},{"s":"ae","t":8,"v":34.6,"e":1.2},{"s":"ae","t":9,"v":33.8,"e":1.2},{"s":"ae","t":10,"v":33,"e":1.2},{"s":"ae","t":11,"v":32.3,"e":1.2},{"s":"ae","t":12,"v":31,"e":1.2},{"s":"ae","t":13,"v":29.7,"e":1.2},{"s":"ae","t":14,"v":28.3,"e":1.2},{"s":"ae","t":15,"v":27.1,"e":1.2},{"s":"ae","t":16,"v":26.1,"e":1.2},{"s":"ae","t":17,"v":25,"e":1.2},{"s":"ae","t":18,"v":24,"e":1.2},{"s":"ae","t":19,"v":23,"e":1.2},{"s":"ae","t":20,"v":21.8,"e":1.2},{"s":"ae","t":21,"v":20.9,"e":1.2},{"s":"ae","t":22,"v":19.8,"e":1.2},{"s":"ae","t":23,"v":18.9,"e":1.2},{"s":"ae","t":24,"v":17.8,"e":1.2}],
"Nd-0l":[{"s":"la","t":0,"v":10.68,"e":0.08},{"s":"la","t":0.5,"v":10.75,"e":0.08},{"s":"la","t":1,"v":10.8,"e":0.08},{"s":"la","t":1.5,"v":10.84,"e":0.08},{"s":"la","t":2,"v":10.86,"e":0.08},{"s":"la","t":2.5,"v":10.95,"e":0.08},{"s":"la","t":3,"v":11.06,"e":0.08},{"s":"la","t":3.5,"v":11.15,"e":0.08},{"s":"la","t":4,"v":11.25,"e":0.08},{"s":"la","t":5,"v":11.5,"e":0.15},{"s":"la","t":6,"v":11.45,"e":0.15},{"s":"la","t":7,"v":11.42,"e":0.15},{"s":"la","t":8,"v":11.5,"e":0.15},{"s":"la","t":9,"v":11.65,"e":0.15},{"s":"la","t":10,"v":11.75,"e":0.15},{"s":"la","t":11,"v":11.72,"e":0.15},{"s":"la","t":12,"v":11.72,"e":0.15},{"s":"la","t":13,"v":11.68,"e":0.3},{"s":"la","t":14,"v":11.63,"e":0.3},{"s":"la","t":15,"v":11.67,"e":0.3},{"s":"la","t":16,"v":11.85,"e":0.3},{"s":"la","t":17,"v":11.95,"e":0.3},{"s":"la","t":18,"v":12.1,"e":0.3},{"s":"la","t":19,"v":12.18,"e":0.3},{"s":"la","t":20,"v":12.23,"e":0.3},{"s":"la","t":21,"v":12.24,"e":0.3},{"s":"la","t":22,"v":12.23,"e":0.3},{"s":"la","t":23,"v":12.12,"e":0.3},{"s":"la","t":24,"v":12.2,"e":0.3},
{"s":"le","t":0,"v":10.68,"e":0.08},{"s":"le","t":0.5,"v":10.62,"e":0.08},{"s":"le","t":1,"v":10.59,"e":0.08},{"s":"le","t":1.5,"v":10.56,"e":0.08},{"s":"le","t":2,"v":10.6,"e":0.08},{"s":"le","t":2.5,"v":10.7,"e":0.08},{"s":"le","t":3,"v":10.83,"e":0.08},{"s":"le","t":3.5,"v":10.92,"e":0.08},{"s":"le","t":4,"v":10.96,"e":0.08},{"s":"le","t":5,"v":10.99,"e":0.1},{"s":"le","t":6,"v":10.98,"e":0.1},{"s":"le","t":7,"v":10.95,"e":0.1},{"s":"le","t":8,"v":10.99,"e":0.1},{"s":"le","t":9,"v":11.05,"e":0.1},{"s":"le","t":10,"v":11.03,"e":0.1},{"s":"le","t":11,"v":10.96,"e":0.1},{"s":"le","t":12,"v":10.98,"e":0.1},{"s":"le","t":13,"v":11.04,"e":0.1},{"s":"le","t":14,"v":11.13,"e":0.1},{"s":"le","t":15,"v":11.22,"e":0.1},{"s":"le","t":16,"v":11.2,"e":0.1},{"s":"le","t":17,"v":11.22,"e":0.1},{"s":"le","t":18,"v":11.28,"e":0.1},{"s":"le","t":19,"v":11.34,"e":0.1},{"s":"le","t":20,"v":11.44,"e":0.1},{"s":"le","t":21,"v":11.48,"e":0.1},{"s":"le","t":22,"v":11.49,"e":0.1},{"s":"le","t":23,"v":11.52,"e":0.1},{"s":"le","t":24,"v":11.48,"e":0.1}],
"Cvia":[{"s":"aa","t":0,"v":34.3,"e":1.2},{"s":"aa","t":0.5,"v":34.5,"e":1.2},{"s":"aa","t":1,"v":34.6,"e":1.2},{"s":"aa","t":1.5,"v":35,"e":1.2},{"s":"aa","t":2,"v":35.5,"e":1.2},{"s":"aa","t":2.5,"v":36.5,"e":1.2},{"s":"aa","t":3,"v":37.6,"e":1.2},{"s":"aa","t":3.5,"v":38.4,"e":1.2},{"s":"aa","t":4,"v":39.3,"e":1.2},{"s":"aa","t":5,"v":43,"e":1.8},{"s":"aa","t":6,"v":43.5,"e":1.8},{"s":"aa","t":7,"v":43.4,"e":1.8},{"s":"aa","t":8,"v":43.1,"e":1.8},{"s":"aa","t":9,"v":42.7,"e":1.8},{"s":"aa","t":10,"v":42.2,"e":1.8},{"s":"aa","t":11,"v":41.2,"e":1.8},{"s":"aa","t":12,"v":40.1,"e":1.8},{"s":"aa","t":13,"v":38.9,"e":3},{"s":"aa","t":14,"v":37.9,"e":3},{"s":"aa","t":15,"v":36.8,"e":3},{"s":"aa","t":16,"v":35.6,"e":3},{"s":"aa","t":17,"v":34.5,"e":3},{"s":"aa","t":18,"v":33.5,"e":3},{"s":"aa","t":19,"v":32.3,"e":3},{"s":"aa","t":20,"v":31.5,"e":3},{"s":"aa","t":21,"v":30.4,"e":3},{"s":"aa","t":22,"v":29.3,"e":3},{"s":"aa","t":23,"v":28,"e":3},{"s":"aa","t":24,"v":25.5,"e":3},
{"s":"ae","t":0,"v":34.3,"e":0.8},{"s":"ae","t":0.5,"v":34.4,"e":0.8},{"s":"ae","t":1,"v":35.5,"e":0.8},{"s":"ae","t":1.5,"v":37.8,"e":0.8},{"s":"ae","t":2,"v":39.7,"e":0.8},{"s":"ae","t":2.5,"v":41,"e":0.8},{"s":"ae","t":3,"v":42.3,"e":0.8},{"s":"ae","t":3.5,"v":43.7,"e":0.8},{"s":"ae","t":4,"v":44.1,"e":0.8},{"s":"ae","t":5,"v":43.8,"e":1.5},{"s":"ae","t":6,"v":43.4,"e":1.5},{"s":"ae","t":7,"v":43,"e":1.5},{"s":"ae","t":8,"v":42.5,"e":1.5},{"s":"ae","t":9,"v":41.9,"e":1.5},{"s":"ae","t":10,"v":40.9,"e":1.5},{"s":"ae","t":11,"v":39.6,"e":1.5},{"s":"ae","t":12,"v":38.4,"e":1.5},{"s":"ae","t":13,"v":37.3,"e":2.5},{"s":"ae","t":14,"v":35.9,"e":2.5},{"s":"ae","t":15,"v":35.3,"e":2.5},{"s":"ae","t":16,"v":34.7,"e":2.5},{"s":"ae","t":17,"v":33.6,"e":2.5},{"s":"ae","t":18,"v":32.6,"e":2.5},{"s":"ae","t":19,"v":31.4,"e":2.5},{"s":"ae","t":20,"v":30.6,"e":2.5},{"s":"ae","t":21,"v":29.6,"e":2.5},{"s":"ae","t":22,"v":28.7,"e":2.5},{"s":"ae","t":23,"v":27.7,"e":2.5},{"s":"ae","t":24,"v":26.9,"e":2.5}],
"Cvil":[{"s":"la","t":0,"v":10.56,"e":0.1},{"s":"la","t":0.5,"v":10.62,"e":0.1},{"s":"la","t":1,"v":10.7,"e":0.1},{"s":"la","t":1.5,"v":10.78,"e":0.1},{"s":"la","t":2,"v":10.84,"e":0.1},{"s":"la","t":2.5,"v":10.86,"e":0.1},{"s":"la","t":3,"v":10.84,"e":0.1},{"s":"la","t":3.5,"v":10.83,"e":0.1},{"s":"la","t":4,"v":10.87,"e":0.1},{"s":"la","t":5,"v":10.94,"e":0.15},{"s":"la","t":6,"v":10.99,"e":0.15},{"s":"la","t":7,"v":11.04,"e":0.15},{"s":"la","t":8,"v":11.11,"e":0.15},{"s":"la","t":9,"v":11.17,"e":0.15},{"s":"la","t":10,"v":11.22,"e":0.15},{"s":"la","t":11,"v":11.26,"e":0.15},{"s":"la","t":12,"v":11.45,"e":0.15},{"s":"la","t":13,"v":11.51,"e":0.3},{"s":"la","t":14,"v":11.49,"e":0.3},{"s":"la","t":15,"v":11.51,"e":0.3},{"s":"la","t":16,"v":11.56,"e":0.3},{"s":"la","t":17,"v":11.59,"e":0.3},{"s":"la","t":18,"v":11.66,"e":0.3},{"s":"la","t":19,"v":11.71,"e":0.3},{"s":"la","t":20,"v":11.76,"e":0.3},{"s":"la","t":21,"v":11.81,"e":0.3},{"s":"la","t":22,"v":11.86,"e":0.3},{"s":"la","t":23,"v":11.87,"e":0.3},{"s":"la","t":24,"v":11.83,"e":0.3},
{"s":"le","t":0,"v":10.56,"e":0.1},{"s":"le","t":0.5,"v":10.62,"e":0.1},{"s":"le","t":1,"v":10.68,"e":0.1},{"s":"le","t":1.5,"v":10.75,"e":0.1},{"s":"le","t":2,"v":10.78,"e":0.1},{"s":"le","t":2.5,"v":10.8,"e":0.1},{"s":"le","t":3,"v":10.78,"e":0.1},{"s":"le","t":3.5,"v":10.76,"e":0.1},{"s":"le","t":4,"v":10.8,"e":0.1},{"s":"le","t":5,"v":10.85,"e":0.12},{"s":"le","t":6,"v":10.86,"e":0.12},{"s":"le","t":7,"v":10.87,"e":0.12},{"s":"le","t":8,"v":10.9,"e":0.12},{"s":"le","t":9,"v":10.85,"e":0.12},{"s":"le","t":10,"v":11.03,"e":0.12},{"s":"le","t":11,"v":11.14,"e":0.12},{"s":"le","t":12,"v":11.22,"e":0.12},{"s":"le","t":13,"v":11.26,"e":0.15},{"s":"le","t":14,"v":11.3,"e":0.15},{"s":"le","t":15,"v":11.3,"e":0.15},{"s":"le","t":16,"v":11.27,"e":0.15},{"s":"le","t":17,"v":11.26,"e":0.15},{"s":"le","t":18,"v":11.24,"e":0.15},{"s":"le","t":19,"v":11.24,"e":0.15},{"s":"le","t":20,"v":11.2,"e":0.15},{"s":"le","t":21,"v":11.14,"e":0.15},{"s":"le","t":22,"v":11.2,"e":0.15},{"s":"le","t":23,"v":11.3,"e":0.15},{"s":"le","t":24,"v":11.22,"e":0.15}]
},
"spacing":3,
"vconcat":[
{"spacing":4,"hconcat":[
 {"bounds":"flush","spacing":0,"hconcat":[
  {"width":117,"height":163,"data":{"name":"Col-0a"},"layer":[
   {"mark":{"type":"errorbar","ticks":{"size":4},"color":"#333","thickness":0.8},"encoding":{"x":{"field":"t","type":"quantitative","scale":{"domain":[0,25],"nice":false},"axis":{"values":[0,5,10,15,20,25],"tickCount":20,"labels":false,"title":null}},"y":{"field":"v","type":"quantitative","scale":{"domain":[0,50],"nice":false},"axis":{"values":[0,10,20,30,40,50],"tickCount":20,"title":"petiole angle (degrees)"}},"yError":{"field":"e"}}},
   {"mark":{"type":"point","shape":"square","filled":true,"size":24,"stroke":"#222","strokeWidth":0.8,"opacity":1},"encoding":{"x":{"field":"t","type":"quantitative"},"y":{"field":"v","type":"quantitative"},"fill":{"field":"s","type":"nominal","scale":{"domain":["aa","ae"],"range":["white","black"]},"legend":{"orient":"none","legendX":0,"legendY":0,"title":null,"symbolType":"square","symbolSize":24,"symbolStrokeColor":"#222","symbolStrokeWidth":0.8,"symbolOffset":8,"labelOffset":8,"labelFontSize":7,"labelFont":"Liberation Sans","labelColor":"#333","strokeColor":"#333","fillColor":"white","padding":6,"rowPadding":1,"labelExpr":"datum.value=='aa'?'petiole angle air':'petiole angle ethylene'"}}}}
  ]},
  {"width":117,"height":163,"data":{"name":"Col-0l"},"layer":[
   {"mark":{"type":"errorbar","ticks":{"size":4},"color":"#333","thickness":0.8},"encoding":{"x":{"field":"t","type":"quantitative","scale":{"domain":[0,25],"nice":false},"axis":{"values":[0,5,10,15,20,25],"tickCount":20,"labels":false,"title":null}},"y":{"field":"v","type":"quantitative","scale":{"domain":[7.5,15],"nice":false,"zero":false},"axis":{"orient":"right","values":[8,9,10,11,12,13,14,15],"tickCount":20,"labels":false,"title":null}},"yError":{"field":"e"}}},
   {"mark":{"type":"point","shape":"circle","filled":true,"size":24,"stroke":"#222","strokeWidth":0.8,"opacity":1},"encoding":{"x":{"field":"t","type":"quantitative"},"y":{"field":"v","type":"quantitative"},"color":{"field":"s","type":"nominal","scale":{"domain":["la","le"],"range":["white","black"]},"legend":{"orient":"none","legendX":144,"legendY":132,"title":null,"symbolType":"circle","symbolSize":24,"symbolStrokeColor":"#222","symbolStrokeWidth":0.8,"symbolOffset":0,"labelOffset":5,"labelFontSize":7,"labelFont":"Liberation Sans","labelColor":"#333","strokeColor":"#333","fillColor":"white","padding":5,"rowPadding":1,"labelExpr":"datum.value=='la'?'petiole length air':'petiole length ethylene'"}}}},
   {"data":{"values":[{"g":"Col-0"}]},"mark":{"type":"text","font":"Liberation Sans","fontWeight":"bold","fontSize":14,"align":"left","baseline":"middle","color":"black"},"encoding":{"x":{"datum":1.7},"y":{"datum":14.45},"text":{"field":"g"}}}
  ]}
 ]},
 {"bounds":"flush","spacing":0,"hconcat":[
  {"width":117,"height":163,"data":{"name":"Ws-2a"},"layer":[
   {"mark":{"type":"errorbar","ticks":{"size":4},"color":"#333","thickness":0.8},"encoding":{"x":{"field":"t","type":"quantitative","scale":{"domain":[0,25],"nice":false},"axis":{"values":[0,5,10,15,20,25],"tickCount":20,"labels":false,"title":null}},"y":{"field":"v","type":"quantitative","scale":{"domain":[0,50],"nice":false},"axis":{"values":[0,10,20,30,40,50],"tickCount":20,"labels":false,"title":null}},"yError":{"field":"e"}}},
   {"mark":{"type":"point","shape":"square","filled":true,"size":24,"stroke":"#222","strokeWidth":0.8,"opacity":1},"encoding":{"x":{"field":"t","type":"quantitative"},"y":{"field":"v","type":"quantitative"},"fill":{"field":"s","type":"nominal"}}}
  ]},
  {"width":117,"height":163,"data":{"name":"Ws-2l"},"layer":[
   {"mark":{"type":"errorbar","ticks":{"size":4},"color":"#333","thickness":0.8},"encoding":{"x":{"field":"t","type":"quantitative","scale":{"domain":[0,25],"nice":false},"axis":{"values":[0,5,10,15,20,25],"tickCount":20,"labels":false,"title":null}},"y":{"field":"v","type":"quantitative","scale":{"domain":[7.5,15],"nice":false,"zero":false},"axis":{"orient":"right","values":[8,9,10,11,12,13,14,15],"tickCount":20,"labels":false,"title":null}},"yError":{"field":"e"}}},
   {"mark":{"type":"point","shape":"circle","filled":true,"size":24,"stroke":"#222","strokeWidth":0.8,"opacity":1},"encoding":{"x":{"field":"t","type":"quantitative"},"y":{"field":"v","type":"quantitative"},"color":{"field":"s","type":"nominal"}}},
   {"data":{"values":[{"g":"Ws-2"}]},"mark":{"type":"text","font":"Liberation Sans","fontWeight":"bold","fontSize":14,"align":"left","baseline":"middle","color":"black"},"encoding":{"x":{"datum":2.1},"y":{"datum":14.45},"text":{"field":"g"}}}
  ]}
 ]},
 {"bounds":"flush","spacing":0,"hconcat":[
  {"width":117,"height":163,"data":{"name":"Be-0a"},"layer":[
   {"mark":{"type":"errorbar","ticks":{"size":4},"color":"#333","thickness":0.8},"encoding":{"x":{"field":"t","type":"quantitative","scale":{"domain":[0,25],"nice":false},"axis":{"values":[0,5,10,15,20,25],"tickCount":20,"labels":false,"title":null}},"y":{"field":"v","type":"quantitative","scale":{"domain":[0,50],"nice":false},"axis":{"values":[0,10,20,30,40,50],"tickCount":20,"labels":false,"title":null}},"yError":{"field":"e"}}},
   {"mark":{"type":"point","shape":"square","filled":true,"size":24,"stroke":"#222","strokeWidth":0.8,"opacity":1},"encoding":{"x":{"field":"t","type":"quantitative"},"y":{"field":"v","type":"quantitative"},"fill":{"field":"s","type":"nominal"}}}
  ]},
  {"width":117,"height":163,"data":{"name":"Be-0l"},"layer":[
   {"mark":{"type":"errorbar","ticks":{"size":4},"color":"#333","thickness":0.8},"encoding":{"x":{"field":"t","type":"quantitative","scale":{"domain":[0,25],"nice":false},"axis":{"values":[0,5,10,15,20,25],"tickCount":20,"labels":false,"title":null}},"y":{"field":"v","type":"quantitative","scale":{"domain":[7.5,15],"nice":false,"zero":false},"axis":{"orient":"right","values":[8,9,10,11,12,13,14,15],"tickCount":20,"format":"d","title":"petiole length (mm)","titleAngle":270,"titleBaseline":"top","titlePadding":3}},"yError":{"field":"e"}}},
   {"mark":{"type":"point","shape":"circle","filled":true,"size":24,"stroke":"#222","strokeWidth":0.8,"opacity":1},"encoding":{"x":{"field":"t","type":"quantitative"},"y":{"field":"v","type":"quantitative"},"color":{"field":"s","type":"nominal"}}},
   {"data":{"values":[{"g":"Be-0"}]},"mark":{"type":"text","font":"Liberation Sans","fontWeight":"bold","fontSize":14,"align":"left","baseline":"middle","color":"black"},"encoding":{"x":{"datum":1.7},"y":{"datum":14.45},"text":{"field":"g"}}}
  ]}
 ]}
]},
{"spacing":4,"hconcat":[
 {"bounds":"flush","spacing":0,"hconcat":[
  {"width":117,"height":163,"data":{"name":"Rld-1a"},"layer":[
   {"mark":{"type":"errorbar","ticks":{"size":4},"color":"#333","thickness":0.8},"encoding":{"x":{"field":"t","type":"quantitative","scale":{"domain":[0,25],"nice":false},"axis":{"values":[0,5,10,15,20,25],"tickCount":20,"labels":false,"title":null}},"y":{"field":"v","type":"quantitative","scale":{"domain":[0,50],"nice":false},"axis":{"values":[0,10,20,30,40,50],"tickCount":20,"title":"petiole angle (degrees)"}},"yError":{"field":"e"}}},
   {"mark":{"type":"point","shape":"square","filled":true,"size":24,"stroke":"#222","strokeWidth":0.8,"opacity":1},"encoding":{"x":{"field":"t","type":"quantitative"},"y":{"field":"v","type":"quantitative"},"fill":{"field":"s","type":"nominal"}}}
  ]},
  {"width":117,"height":163,"data":{"name":"Rld-1l"},"layer":[
   {"mark":{"type":"errorbar","ticks":{"size":4},"color":"#333","thickness":0.8},"encoding":{"x":{"field":"t","type":"quantitative","scale":{"domain":[0,25],"nice":false},"axis":{"values":[0,5,10,15,20,25],"tickCount":20,"labels":false,"title":null}},"y":{"field":"v","type":"quantitative","scale":{"domain":[7.5,15],"nice":false,"zero":false},"axis":{"orient":"right","values":[8,9,10,11,12,13,14,15],"tickCount":20,"labels":false,"title":null}},"yError":{"field":"e"}}},
   {"mark":{"type":"point","shape":"circle","filled":true,"size":24,"stroke":"#222","strokeWidth":0.8,"opacity":1},"encoding":{"x":{"field":"t","type":"quantitative"},"y":{"field":"v","type":"quantitative"},"color":{"field":"s","type":"nominal"}}},
   {"data":{"values":[{"g":"Rld-1"}]},"mark":{"type":"text","font":"Liberation Sans","fontWeight":"bold","fontSize":14,"align":"left","baseline":"middle","color":"black"},"encoding":{"x":{"datum":1.7},"y":{"datum":14.3},"text":{"field":"g"}}}
  ]}
 ]},
 {"bounds":"flush","spacing":0,"hconcat":[
  {"width":117,"height":163,"data":{"name":"Kasa"},"layer":[
   {"mark":{"type":"errorbar","ticks":{"size":4},"color":"#333","thickness":0.8},"encoding":{"x":{"field":"t","type":"quantitative","scale":{"domain":[0,25],"nice":false},"axis":{"values":[0,5,10,15,20,25],"tickCount":20,"labels":false,"title":null}},"y":{"field":"v","type":"quantitative","scale":{"domain":[0,50],"nice":false},"axis":{"values":[0,10,20,30,40,50],"tickCount":20,"labels":false,"title":null}},"yError":{"field":"e"}}},
   {"mark":{"type":"point","shape":"square","filled":true,"size":24,"stroke":"#222","strokeWidth":0.8,"opacity":1},"encoding":{"x":{"field":"t","type":"quantitative"},"y":{"field":"v","type":"quantitative"},"fill":{"field":"s","type":"nominal"}}}
  ]},
  {"width":117,"height":163,"data":{"name":"Kasl"},"layer":[
   {"mark":{"type":"errorbar","ticks":{"size":4},"color":"#333","thickness":0.8},"encoding":{"x":{"field":"t","type":"quantitative","scale":{"domain":[0,25],"nice":false},"axis":{"values":[0,5,10,15,20,25],"tickCount":20,"labels":false,"title":null}},"y":{"field":"v","type":"quantitative","scale":{"domain":[7.5,15],"nice":false,"zero":false},"axis":{"orient":"right","values":[8,9,10,11,12,13,14,15],"tickCount":20,"labels":false,"title":null}},"yError":{"field":"e"}}},
   {"mark":{"type":"point","shape":"circle","filled":true,"size":24,"stroke":"#222","strokeWidth":0.8,"opacity":1},"encoding":{"x":{"field":"t","type":"quantitative"},"y":{"field":"v","type":"quantitative"},"color":{"field":"s","type":"nominal"}}},
   {"data":{"values":[{"g":"Kas"}]},"mark":{"type":"text","font":"Liberation Sans","fontWeight":"bold","fontSize":14,"align":"left","baseline":"middle","color":"black"},"encoding":{"x":{"datum":2.8},"y":{"datum":14.3},"text":{"field":"g"}}}
  ]}
 ]},
 {"bounds":"flush","spacing":0,"hconcat":[
  {"width":117,"height":163,"data":{"name":"Shaa"},"layer":[
   {"mark":{"type":"errorbar","ticks":{"size":4},"color":"#333","thickness":0.8},"encoding":{"x":{"field":"t","type":"quantitative","scale":{"domain":[0,25],"nice":false},"axis":{"values":[0,5,10,15,20,25],"tickCount":20,"labels":false,"title":null}},"y":{"field":"v","type":"quantitative","scale":{"domain":[0,50],"nice":false},"axis":{"values":[0,10,20,30,40,50],"tickCount":20,"labels":false,"title":null}},"yError":{"field":"e"}}},
   {"mark":{"type":"point","shape":"square","filled":true,"size":24,"stroke":"#222","strokeWidth":0.8,"opacity":1},"encoding":{"x":{"field":"t","type":"quantitative"},"y":{"field":"v","type":"quantitative"},"fill":{"field":"s","type":"nominal"}}}
  ]},
  {"width":117,"height":163,"data":{"name":"Shal"},"layer":[
   {"mark":{"type":"errorbar","ticks":{"size":4},"color":"#333","thickness":0.8},"encoding":{"x":{"field":"t","type":"quantitative","scale":{"domain":[0,25],"nice":false},"axis":{"values":[0,5,10,15,20,25],"tickCount":20,"labels":false,"title":null}},"y":{"field":"v","type":"quantitative","scale":{"domain":[7.5,15],"nice":false,"zero":false},"axis":{"orient":"right","values":[8,9,10,11,12,13,14,15],"tickCount":20,"format":"d","title":"petiole length (mm)","titleAngle":270,"titleBaseline":"top","titlePadding":3}},"yError":{"field":"e"}}},
   {"mark":{"type":"point","shape":"circle","filled":true,"size":24,"stroke":"#222","strokeWidth":0.8,"opacity":1},"encoding":{"x":{"field":"t","type":"quantitative"},"y":{"field":"v","type":"quantitative"},"color":{"field":"s","type":"nominal"}}},
   {"data":{"values":[{"g":"Sha"}]},"mark":{"type":"text","font":"Liberation Sans","fontWeight":"bold","fontSize":14,"align":"left","baseline":"middle","color":"black"},"encoding":{"x":{"datum":1.9},"y":{"datum":14.25},"text":{"field":"g"}}}
  ]}
 ]}
]},
{"spacing":4,"hconcat":[
 {"bounds":"flush","spacing":0,"hconcat":[
  {"width":117,"height":163,"data":{"name":"Lera"},"layer":[
   {"mark":{"type":"errorbar","ticks":{"size":4},"color":"#333","thickness":0.8},"encoding":{"x":{"field":"t","type":"quantitative","scale":{"domain":[0,25],"nice":false},"axis":{"values":[0,5,10,15,20,25],"tickCount":20,"labelExpr":"datum.value==25?'':datum.label","title":"time after start treatment (h)","titleX":117}},"y":{"field":"v","type":"quantitative","scale":{"domain":[0,50],"nice":false},"axis":{"values":[0,10,20,30,40,50],"tickCount":20,"title":"petiole angle (degrees)"}},"yError":{"field":"e"}}},
   {"mark":{"type":"point","shape":"square","filled":true,"size":24,"stroke":"#222","strokeWidth":0.8,"opacity":1},"encoding":{"x":{"field":"t","type":"quantitative"},"y":{"field":"v","type":"quantitative"},"fill":{"field":"s","type":"nominal"}}},
   {"data":{"values":[{"start":7.6,"end":22.1}]},"mark":{"type":"rect","color":"black"},"encoding":{"x":{"field":"start","type":"quantitative"},"x2":{"field":"end"},"y":{"datum":0},"y2":{"datum":1.7}}}
  ]},
  {"width":117,"height":163,"data":{"name":"Lerl"},"layer":[
   {"mark":{"type":"errorbar","ticks":{"size":4},"color":"#333","thickness":0.8},"encoding":{"x":{"field":"t","type":"quantitative","scale":{"domain":[0,25],"nice":false},"axis":{"values":[0,5,10,15,20,25],"tickCount":20,"labelExpr":"datum.value==0?'':datum.label","title":null}},"y":{"field":"v","type":"quantitative","scale":{"domain":[7.5,15],"nice":false,"zero":false},"axis":{"orient":"right","values":[8,9,10,11,12,13,14,15],"tickCount":20,"labels":false,"title":null}},"yError":{"field":"e"}}},
   {"mark":{"type":"point","shape":"circle","filled":true,"size":24,"stroke":"#222","strokeWidth":0.8,"opacity":1},"encoding":{"x":{"field":"t","type":"quantitative"},"y":{"field":"v","type":"quantitative"},"color":{"field":"s","type":"nominal"}}},
   {"data":{"values":[{"start":7.2,"end":21.8}]},"mark":{"type":"rect","color":"black"},"encoding":{"x":{"field":"start","type":"quantitative"},"x2":{"field":"end"},"y":{"datum":7.5},"y2":{"datum":7.76}}},
   {"data":{"values":[{"g":"L"}]},"mark":{"type":"text","font":"Liberation Sans","fontWeight":"bold","fontSize":14,"align":"left","baseline":"middle","color":"black"},"encoding":{"x":{"datum":1.7},"y":{"datum":14.22},"text":{"field":"g"}}},
   {"data":{"values":[{"g":"er"}]},"mark":{"type":"text","font":"Liberation Sans","fontWeight":"bold","fontStyle":"italic","fontSize":14,"align":"left","baseline":"middle","color":"black","dx":9},"encoding":{"x":{"datum":1.7},"y":{"datum":14.22},"text":{"field":"g"}}}
  ]}
 ]},
 {"bounds":"flush","spacing":0,"hconcat":[
  {"width":117,"height":163,"data":{"name":"Nd-0a"},"layer":[
   {"mark":{"type":"errorbar","ticks":{"size":4},"color":"#333","thickness":0.8},"encoding":{"x":{"field":"t","type":"quantitative","scale":{"domain":[0,25],"nice":false},"axis":{"values":[0,5,10,15,20,25],"tickCount":20,"labelExpr":"datum.value==25?'':datum.label","title":"time after start treatment (h)","titleX":117}},"y":{"field":"v","type":"quantitative","scale":{"domain":[0,50],"nice":false},"axis":{"values":[0,10,20,30,40,50],"tickCount":20,"labels":false,"title":null}},"yError":{"field":"e"}}},
   {"mark":{"type":"point","shape":"square","filled":true,"size":24,"stroke":"#222","strokeWidth":0.8,"opacity":1},"encoding":{"x":{"field":"t","type":"quantitative"},"y":{"field":"v","type":"quantitative"},"fill":{"field":"s","type":"nominal"}}},
   {"data":{"values":[{"start":7.6,"end":22.1}]},"mark":{"type":"rect","color":"black"},"encoding":{"x":{"field":"start","type":"quantitative"},"x2":{"field":"end"},"y":{"datum":0},"y2":{"datum":1.7}}}
  ]},
  {"width":117,"height":163,"data":{"name":"Nd-0l"},"layer":[
   {"mark":{"type":"errorbar","ticks":{"size":4},"color":"#333","thickness":0.8},"encoding":{"x":{"field":"t","type":"quantitative","scale":{"domain":[0,25],"nice":false},"axis":{"values":[0,5,10,15,20,25],"tickCount":20,"labelExpr":"datum.value==0?'':datum.label","title":null}},"y":{"field":"v","type":"quantitative","scale":{"domain":[7.5,15],"nice":false,"zero":false},"axis":{"orient":"right","values":[8,9,10,11,12,13,14,15],"tickCount":20,"labels":false,"title":null}},"yError":{"field":"e"}}},
   {"mark":{"type":"point","shape":"circle","filled":true,"size":24,"stroke":"#222","strokeWidth":0.8,"opacity":1},"encoding":{"x":{"field":"t","type":"quantitative"},"y":{"field":"v","type":"quantitative"},"color":{"field":"s","type":"nominal"}}},
   {"data":{"values":[{"start":7.2,"end":21.8}]},"mark":{"type":"rect","color":"black"},"encoding":{"x":{"field":"start","type":"quantitative"},"x2":{"field":"end"},"y":{"datum":7.5},"y2":{"datum":7.76}}},
   {"data":{"values":[{"g":"Nd-0"}]},"mark":{"type":"text","font":"Liberation Sans","fontWeight":"bold","fontSize":14,"align":"left","baseline":"middle","color":"black"},"encoding":{"x":{"datum":1.9},"y":{"datum":14.22},"text":{"field":"g"}}}
  ]}
 ]},
 {"bounds":"flush","spacing":0,"hconcat":[
  {"width":117,"height":163,"data":{"name":"Cvia"},"layer":[
   {"mark":{"type":"errorbar","ticks":{"size":4},"color":"#333","thickness":0.8},"encoding":{"x":{"field":"t","type":"quantitative","scale":{"domain":[0,25],"nice":false},"axis":{"values":[0,5,10,15,20,25],"tickCount":20,"labelExpr":"datum.value==25?'':datum.label","title":"time after start treatment (h)","titleX":117}},"y":{"field":"v","type":"quantitative","scale":{"domain":[0,50],"nice":false},"axis":{"values":[0,10,20,30,40,50],"tickCount":20,"labels":false,"title":null}},"yError":{"field":"e"}}},
   {"mark":{"type":"point","shape":"square","filled":true,"size":24,"stroke":"#222","strokeWidth":0.8,"opacity":1},"encoding":{"x":{"field":"t","type":"quantitative"},"y":{"field":"v","type":"quantitative"},"fill":{"field":"s","type":"nominal"}}},
   {"data":{"values":[{"start":7.6,"end":22.1}]},"mark":{"type":"rect","color":"black"},"encoding":{"x":{"field":"start","type":"quantitative"},"x2":{"field":"end"},"y":{"datum":0},"y2":{"datum":1.7}}}
  ]},
  {"width":117,"height":163,"data":{"name":"Cvil"},"layer":[
   {"mark":{"type":"errorbar","ticks":{"size":4},"color":"#333","thickness":0.8},"encoding":{"x":{"field":"t","type":"quantitative","scale":{"domain":[0,25],"nice":false},"axis":{"values":[0,5,10,15,20,25],"tickCount":20,"labelExpr":"datum.value==0?'':datum.label","title":null}},"y":{"field":"v","type":"quantitative","scale":{"domain":[7.5,15],"nice":false,"zero":false},"axis":{"orient":"right","values":[8,9,10,11,12,13,14,15],"tickCount":20,"format":"d","title":"petiole length (mm)","titleAngle":270,"titleBaseline":"top","titlePadding":3}},"yError":{"field":"e"}}},
   {"mark":{"type":"point","shape":"circle","filled":true,"size":24,"stroke":"#222","strokeWidth":0.8,"opacity":1},"encoding":{"x":{"field":"t","type":"quantitative"},"y":{"field":"v","type":"quantitative"},"color":{"field":"s","type":"nominal"}}},
   {"data":{"values":[{"start":7.2,"end":21.8}]},"mark":{"type":"rect","color":"black"},"encoding":{"x":{"field":"start","type":"quantitative"},"x2":{"field":"end"},"y":{"datum":7.5},"y2":{"datum":7.76}}},
   {"data":{"values":[{"g":"Cvi"}]},"mark":{"type":"text","font":"Liberation Sans","fontWeight":"bold","fontSize":14,"align":"left","baseline":"middle","color":"black"},"encoding":{"x":{"datum":3.2},"y":{"datum":14.22},"text":{"field":"g"}}}
  ]}
 ]}
]}
]
}
